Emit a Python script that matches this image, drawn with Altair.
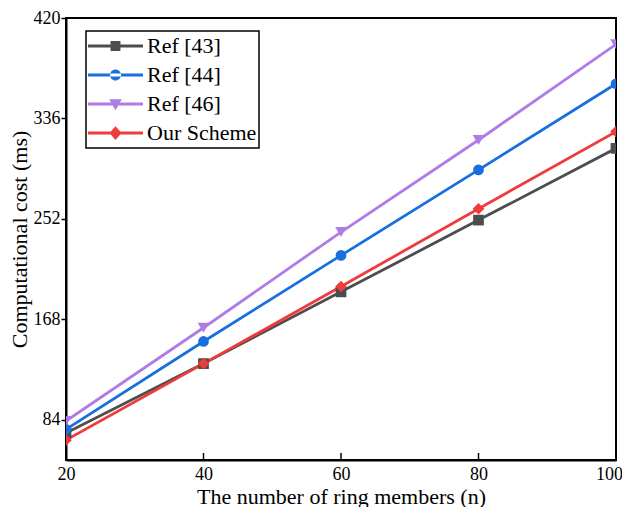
import altair as alt
import pandas as pd

x_vals = [20, 40, 60, 80, 100]
series = ["Ref [43]", "Ref [44]", "Ref [46]", "Our Scheme"]
ref43 = [73, 131, 191, 251, 311]
ref44 = [76, 149.5, 221.5, 293, 365]
ref46 = [83, 161, 241, 318, 398]
ours = [67, 131, 195.5, 260.5, 325]
colors = ["#4d4d4d", "#1a6fdf", "#b07be6", "#ef3b3b"]
shapes = ["square", "circle", "triangle-down", "diamond"]
x_ticks = [20, 40, 60, 80, 100]
y_ticks = [84, 168, 252, 336, 420]

# legend symbols: line segment + marker (unit coords)
seg = "M-1,-0.055H1V0.055H-1Z"
legend_paths = [
    seg + "M-0.18,-0.18H0.18V0.18H-0.18Z",
    seg + "M-0.2,0A0.2,0.2,0,1,0,0.2,0A0.2,0.2,0,1,0,-0.2,0Z",
    seg + "M-0.23,-0.17L0.23,-0.17L0,0.23Z",
    seg + "M0,-0.25L0.22,0L0,0.25L-0.22,0Z",
]

rows = []
for s, vals in zip(series, [ref43, ref44, ref46, ours]):
    for xv, yv in zip(x_vals, vals):
        rows.append({"n": xv, "cost": yv, "series": s})
df = pd.DataFrame(rows)
tick_df = pd.DataFrame({"n": x_ticks})

W, H = 550, 442
FONT = "Liberation Serif"

xs = alt.Scale(domain=[20, 100], nice=False)
ys = alt.Scale(domain=[50.4, 420], nice=False)

x_enc = alt.X(
    "n:Q", scale=xs,
    axis=alt.Axis(
        title="The number of ring members (n)", values=x_ticks, ticks=False,
        labelPadding=5, labelFlush=False, grid=False, titlePadding=3,
        labelOffset={"condition": {"test": "datum.value == 100", "value": -7}, "value": 0},
        labelFontSize=18, titleFontSize=22,
    ),
)
y_enc = alt.Y(
    "cost:Q", scale=ys,
    axis=alt.Axis(
        title="Computational cost (ms)", values=y_ticks, tickSize=5,
        labelPadding=1, grid=False, titlePadding=2,
        labelFontSize=18, titleFontSize=22,
    ),
)
color_nolegend = alt.Color("series:N", scale=alt.Scale(domain=series, range=colors), legend=None)

base = alt.Chart(df)

legend_layer = (
    base.transform_filter("false")
    .mark_point(filled=True, opacity=1)
    .encode(
        x=alt.X("n:Q", scale=xs),
        y=alt.Y("cost:Q", scale=ys),
        color=alt.Color(
            "series:N", scale=alt.Scale(domain=series, range=colors),
            legend=alt.Legend(title=None),
        ),
        shape=alt.Shape(
            "series:N", scale=alt.Scale(domain=series, range=legend_paths),
            legend=alt.Legend(title=None),
        ),
    )
)

lines = base.mark_line(strokeWidth=2.8, clip=True).encode(
    x=x_enc, y=y_enc, color=color_nolegend
)

pts = []
for s, shp in zip(series, shapes):
    sz = 115 if shp in ("square", "circle") else 135
    pts.append(
        base.transform_filter(alt.datum.series == s)
        .mark_point(shape=shp, filled=True, size=sz, opacity=1, clip=True)
        .encode(x=alt.X("n:Q", scale=xs), y=alt.Y("cost:Q", scale=ys), color=color_nolegend)
    )

ticks = alt.Chart(tick_df).mark_rule(color="black", strokeWidth=1.5).encode(
    x=alt.X("n:Q", scale=xs), y=alt.value(H), y2=alt.value(H - 7)
)

data_layers = alt.layer(lines, *pts, ticks)

chart = (
    alt.layer(legend_layer, data_layers)
    .resolve_scale(color="independent", shape="independent")
    .properties(
        width=W, height=H,
        autosize=alt.AutoSizeParams(type="none"),
        padding={"left": 58, "top": 10, "right": 6, "bottom": 50},
    )
    .configure_view(stroke="black", strokeWidth=2)
    .configure_axis(
        labelFont=FONT, titleFont=FONT, labelColor="black", titleColor="black",
        titleFontWeight="normal", domainColor="black", domainWidth=2,
        tickColor="black", tickWidth=1.5,
    )
    .configure_legend(
        orient="none", legendX=20, legendY=13, strokeColor="black", strokeWidth=1.5,
        fillColor="white", padding=2, symbolSize=3025, symbolStrokeWidth=0,
        labelFont=FONT, labelFontSize=22, labelColor="black", labelOffset=4,
        rowPadding=3, clipHeight=26, symbolOpacity=1, cornerRadius=0,
    )
)

chart.save("out.html", embed_options={"renderer": "svg", "actions": False})
